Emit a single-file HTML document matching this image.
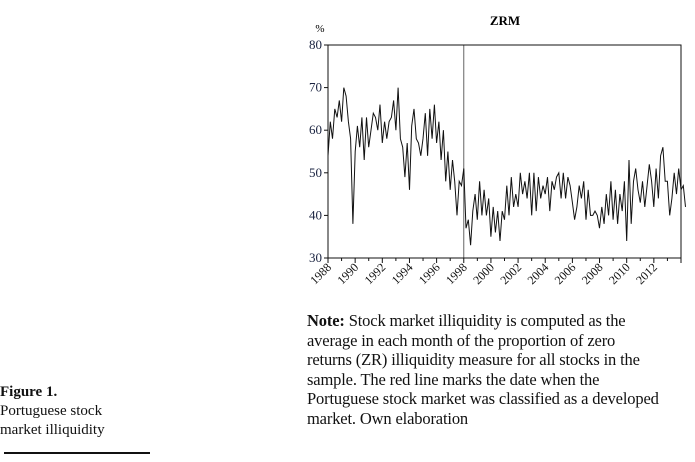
<!DOCTYPE html>
<html><head><meta charset="utf-8"><style>
body{margin:0;background:#fff;width:695px;height:462px;overflow:hidden;font-family:"Liberation Serif",serif;position:relative}
.t{position:absolute;color:#111}
</style></head><body>
<svg width="695" height="300" style="position:absolute;left:0;top:0" font-family="Liberation Serif, serif">
<text x="505" y="25" font-size="13" font-weight="bold" text-anchor="middle">ZRM</text>
<text x="320" y="32" font-size="11" text-anchor="middle">%</text>
<g id="axes"></g>
<polyline id="series" fill="none" stroke="#111" stroke-width="1"/>
<rect x="328" y="45" width="353" height="213" fill="none" stroke="#111" stroke-width="1"/>
</svg>
<div class="t" style="left:307px;top:311px;font-size:16.5px;line-height:19.5px;white-space:nowrap;letter-spacing:-0.15px"><b>Note:</b> Stock market illiquidity is computed as the<br>average in each month of the proportion of zero<br>returns (ZR) illiquidity measure for all stocks in the<br>sample. The red line marks the date when the<br>Portuguese stock market was classified as a developed<br>market. Own elaboration</div>
<div class="t" style="left:0;top:383px;font-size:15px;line-height:19px"><b>Figure 1.</b><br>Portuguese stock<br>market illiquidity</div>
<div style="position:absolute;left:4px;top:452px;width:146px;height:2px;background:#111"></div>
<script>
const yTicks=[30,40,50,60,70,80];
const xTicks=[1988,1990,1992,1994,1996,1998,2000,2002,2004,2006,2008,2010,2012];
const markerYear=[1998];
const values=[54,62,58,65,63,67,62,70,68,62,58,38,55,61,56,63,53,63,56,60,64,63,60,66,57,62,58,62,63,67,60,70,58,56,49,57,46,61,65,58,57,54,58,64,54,65,58,66,57,62,53,60,48,55,46,53,48,40,48,47,51,37,39,33,41,45,39,48,40,46,40,44,35,42,36,41,34,41,39,47,40,49,42,45,42,50,45,48,44,50,40,50,41,49,44,47,45,49,41,48,46,49,50,44,50,44,49,47,43,39,42,47,44,48,39,46,40,40,41,40,37,42,38,45,40,48,39,46,38,45,41,48,34,53,38,48,51,46,43,48,42,47,52,48,42,51,44,54,56,48,48,40,44,50,45,51,46,47,42];
const startYear=1988, step=1/6;
const L=328,R=681,T=45,B=258,Y0=1988,Y1=2014;
const x=v=>L+(v-Y0)/(Y1-Y0)*(R-L);
const y=v=>B-(v-30)/(80-30)*(B-T);
const NS='http://www.w3.org/2000/svg';
const g=document.getElementById('axes');
function mk(t,a){const e=document.createElementNS(NS,t);for(const k in a)e.setAttribute(k,a[k]);g.appendChild(e);return e;}
yTicks.forEach(v=>{
 const l=mk('line',{x1:L-4,x2:L,y1:y(v),y2:y(v),stroke:'#111'});
 
 
 const t=mk('text',{x:L-6,y:y(v)+4,'font-size':13,'text-anchor':'end',fill:'#1a2340'});
 
 
 t.textContent=v;
});
for(let yr=Y0;yr<=Y1;yr++){
 const l=mk('line',{x1:x(yr),x2:x(yr),y1:B,y2:B+(yr%2?3:5),stroke:'#111'});
 
 
}
xTicks.forEach(v=>{
 const px=x(v)+4,py=B+10;
 const t=mk('text',{x:px,y:py,'font-size':12,'text-anchor':'end',transform:`rotate(-45 ${px} ${py})`,fill:'#111'});
 
 
 t.textContent=v;
});
markerYear.forEach(v=>{
 const l=mk('line',{x1:x(v),x2:x(v),y1:T,y2:B,stroke:'#666','stroke-width':1});
 
 
});
document.getElementById('series').setAttribute('points',values.map((v,i)=>x(startYear+i*step).toFixed(1)+','+y(v).toFixed(1)).join(' '));
</script>
</body></html>
